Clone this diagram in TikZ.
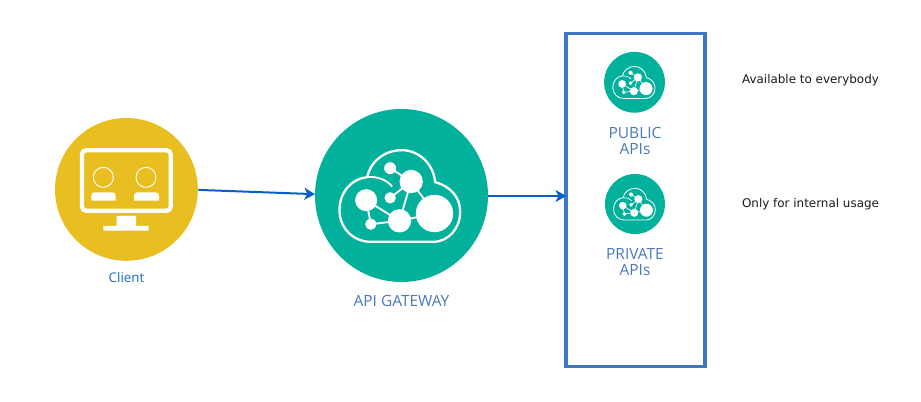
\documentclass[tikz,border=0pt]{standalone}
\usepackage{fontspec}
\setmainfont{Open Sans}
\newfontfamily\notefont{DejaVu Sans}
\usetikzlibrary{arrows.meta}
\definecolor{tealc}{HTML}{02B19C}
\definecolor{goldc}{HTML}{E8BE20}
\definecolor{linkc}{HTML}{0A5EC8}
\definecolor{boxc}{HTML}{3E77C3}
\definecolor{labelc}{HTML}{4A78BE}
\definecolor{clientc}{HTML}{1A6CC0}
\tikzset{
  x=0.75pt,y=-0.75pt,
  tealdisc/.style={circle,fill=tealc,inner sep=0pt,outer sep=0pt},
  golddisc/.style={circle,fill=goldc,inner sep=0pt,outer sep=0pt,minimum size=107.1pt},
  linkarrow/.style={draw=linkc,line width=1.5pt,-{Stealth[length=8pt,width=9pt,inset=2.2pt]}},
  boxlabel/.style={text=labelc,font=\fontsize{11.6pt}{12pt}\selectfont,inner sep=0pt,align=center},
  notelabel/.style={text=black!90,font=\notefont\fontsize{8.95pt}{11pt}\selectfont,inner sep=0pt},
  pics/cloudicon/.style={code={
    \begin{scope}[x=#1*0.75pt,y=-#1*0.75pt,shift={(-274,-286)}]
      \draw[white,line width=#1*5.2pt,line join=round,line cap=round]
        (182,425) -- (368,425) .. controls (415,425) and (450,385) .. (450,335)
        .. controls (450,290) and (420,258) .. (375,246)
        .. controls (370,190) and (325,150) .. (275,150)
        .. controls (222,150) and (180,185) .. (171,231)
        .. controls (125,235) and (88,275) .. (88,330)
        .. controls (88,385) and (130,425) .. (182,425);
      \draw[white,line width=#1*4.2pt,line cap=round] (171,231) .. controls (200,228) and (228,238) .. (245,258);
      \draw[white,line width=#1*4.2pt]
        (240,204) -- (303,244) -- (240,293)
        (303,244) -- (268,362) (303,244) -- (373,340)
        (168,300) -- (268,362) -- (373,340)
        (168,300) -- (182,372) -- (268,362);
      \fill[white] (240,204) circle (18) (303,244) circle (35) (168,300) circle (33)
        (240,293) circle (17) (268,362) circle (35) (373,340) circle (56) (182,372) circle (17);
    \end{scope}
  }}
}
\begin{document}
\begin{tikzpicture}
\useasboundingbox (0,0) rectangle (921,402);
\node[golddisc] (client) at (126.4,189.4) {};
\node[tealdisc,minimum size=129.75pt] (gateway) at (401.5,195.5) {};
\node[tealdisc,minimum size=45.6pt] (public) at (634.5,82.3) {};
\node[tealdisc,minimum size=45pt] (private) at (635,204) {};
\node[draw=boxc,line width=2.6pt,inner sep=0pt,outer sep=0pt,minimum width=104pt,minimum height=250pt] (box) at (635.5,200) {};
% monitor
\begin{scope}[shift={(50,115)},x=0.25pt,y=-0.25pt]
  \draw[white,line width=3.2pt,rounded corners=3pt] (96,106) rectangle (362,287);
  \fill[white] (200,303) rectangle (258,334) (160,333) rectangle (296,347);
  \draw[white,line width=0.7pt] (160,187) circle (30) (288,187) circle (30);
  \fill[white] (124,257) -- (124,242) arc[start angle=180,end angle=270,radius=10] -- (187,232) arc[start angle=270,end angle=360,radius=10] -- (197,257) -- cycle;
  \fill[white] (252,257) -- (252,242) arc[start angle=180,end angle=270,radius=10] -- (317,232) arc[start angle=270,end angle=360,radius=10] -- (327,257) -- cycle;
\end{scope}
\pic at (gateway.center) {cloudicon=0.3333};
\pic at (public.center) {cloudicon=0.1167};
\pic at (private.center) {cloudicon=0.1156};
\coordinate (boxin) at (box.west |- 0,196);
\draw[linkarrow] (client.east) ++(0.5,0.5) -- ([yshift=1pt]gateway.west);
\draw[linkarrow] (gateway.east |- boxin) -- (boxin);
\node[text=clientc,font=\fontsize{10pt}{12pt}\selectfont,inner sep=0pt] (clientlabel) at (126.5,277.2) {Client};
\node[boxlabel] (gwlabel) at (401.5,301) {API GATEWAY};
\node[boxlabel] (publabel) at (635,140.8) {PUBLIC\\APIs};
\node[boxlabel] (privlabel) at (635,262) {PRIVATE\\APIs};
\node[notelabel] (note1) at (810.5,80.5) {Available to everybody};
\node[notelabel] (note2) at (810.5,204.5) {Only for internal usage};
\end{tikzpicture}
\end{document}
